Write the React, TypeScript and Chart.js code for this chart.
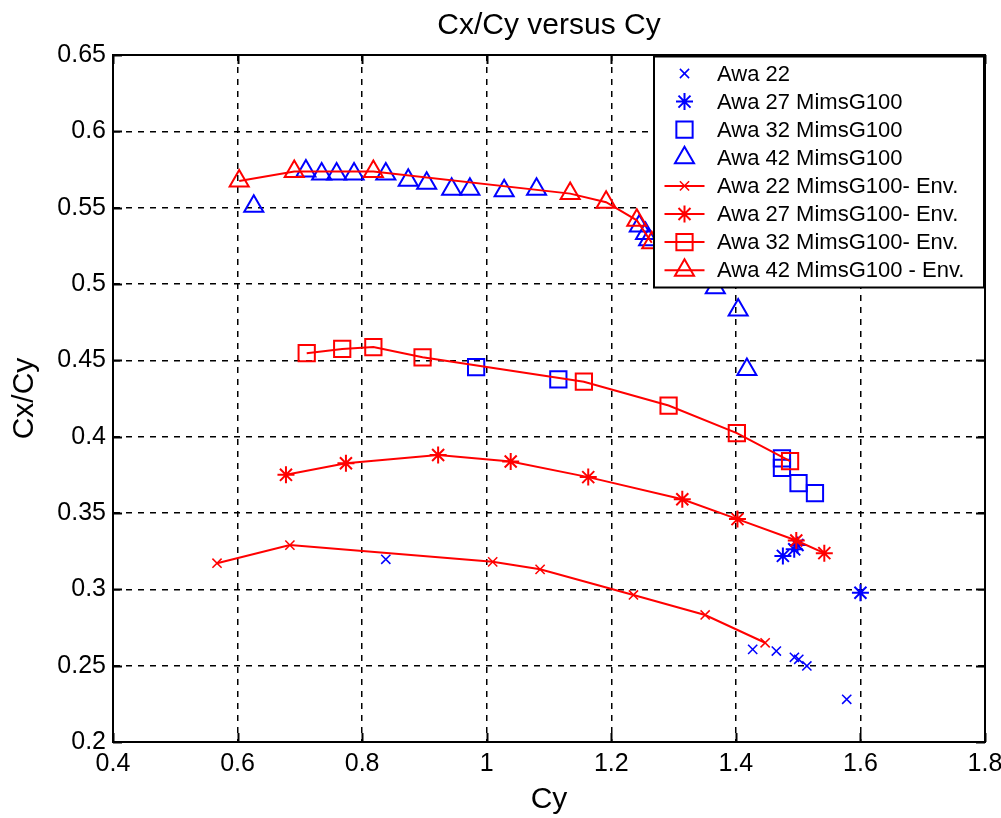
import React, { useEffect, useRef } from 'react';
import { Chart, registerables } from 'chart.js';

Chart.register(...registerables);

const FONT = '"Liberation Sans", Arial, Helvetica, sans-serif';
const BLUE = '#0000ff';
const RED = '#ff0000';

// Axis ticks
const xTicks = [0.4, 0.6, 0.8, 1.0, 1.2, 1.4, 1.6, 1.8];
const xTickLabels = ['0.4', '0.6', '0.8', '1', '1.2', '1.4', '1.6', '1.8'];
const yTicks = [0.2, 0.25, 0.3, 0.35, 0.4, 0.45, 0.5, 0.55, 0.6, 0.65];
const yTickLabels = ['0.2', '0.25', '0.3', '0.35', '0.4', '0.45', '0.5', '0.55', '0.6', '0.65'];

// Series labels
const seriesLabels = [
  'Awa 22',
  'Awa 27 MimsG100',
  'Awa 32 MimsG100',
  'Awa 42 MimsG100',
  'Awa 22 MimsG100- Env.',
  'Awa 27 MimsG100- Env.',
  'Awa 32 MimsG100- Env.',
  'Awa 42 MimsG100 - Env.',
];

// Measured points (Cy, Cx/Cy)
const awa22Cy = [0.838, 1.427, 1.465, 1.494, 1.501, 1.514, 1.578];
const awa22Ratio = [0.3197, 0.2607, 0.2596, 0.2555, 0.2542, 0.2498, 0.228];

const awa27Cy = [1.4755, 1.4937, 1.499, 1.6];
const awa27Ratio = [0.3219, 0.3262, 0.329, 0.2978];

const awa32Cy = [0.983, 1.115, 1.474, 1.474, 1.5006, 1.527];
const awa32Ratio = [0.4455, 0.4376, 0.3858, 0.3795, 0.3695, 0.363];

const awa42Cy = [0.626, 0.7097, 0.735, 0.759, 0.787, 0.838, 0.874, 0.9036, 0.9437, 0.973, 1.028, 1.08, 1.245, 1.255, 1.26, 1.367, 1.4037, 1.4177];
const awa42Ratio = [0.551, 0.574, 0.572, 0.572, 0.572, 0.572, 0.568, 0.566, 0.562, 0.562, 0.561, 0.562, 0.538, 0.533, 0.529, 0.4975, 0.483, 0.444];

// Envelopes
const env22Cy = [0.567, 0.684, 1.0096, 1.0857, 1.2356, 1.3507, 1.447];
const env22Ratio = [0.3171, 0.329, 0.318, 0.3131, 0.2963, 0.2832, 0.265];

const env27Cy = [0.6777, 0.774, 0.922, 1.0385, 1.163, 1.314, 1.4026, 1.497, 1.542];
const env27Ratio = [0.375, 0.3826, 0.388, 0.3837, 0.3735, 0.359, 0.346, 0.332, 0.3237];

const env32Cy = [0.711, 0.768, 0.818, 0.897, 1.156, 1.292, 1.4016, 1.487];
const env32Ratio = [0.4547, 0.4575, 0.4587, 0.452, 0.436, 0.4204, 0.4023, 0.384];

const env42Cy = [0.6026, 0.691, 0.818, 1.134, 1.1917, 1.241, 1.265];
const env42Ratio = [0.5675, 0.5737, 0.5737, 0.5592, 0.5536, 0.5417, 0.527];

const toPts = (xs: number[], ys: number[]) => xs.map((x, i) => ({ x, y: ys[i] }));

type MarkerStyle = 'crossRot' | 'star' | 'rect' | 'triangle';

const seriesStyle: { color: string; marker: MarkerStyle; radius: number; line: boolean }[] = [
  { color: BLUE, marker: 'crossRot', radius: 6.5, line: false },
  { color: BLUE, marker: 'star', radius: 8.5, line: false },
  { color: BLUE, marker: 'rect', radius: 11.5, line: false },
  { color: BLUE, marker: 'triangle', radius: 11, line: false },
  { color: RED, marker: 'crossRot', radius: 6.5, line: true },
  { color: RED, marker: 'star', radius: 8.5, line: true },
  { color: RED, marker: 'rect', radius: 11.5, line: true },
  { color: RED, marker: 'triangle', radius: 11, line: true },
];

function drawMarker(ctx: CanvasRenderingContext2D, style: MarkerStyle, x: number, y: number, r: number) {
  ctx.beginPath();
  if (style === 'crossRot' || style === 'star') {
    const o = r * Math.SQRT1_2;
    ctx.moveTo(x - o, y - o);
    ctx.lineTo(x + o, y + o);
    ctx.moveTo(x - o, y + o);
    ctx.lineTo(x + o, y - o);
    if (style === 'star') {
      ctx.moveTo(x - r, y);
      ctx.lineTo(x + r, y);
      ctx.moveTo(x, y - r);
      ctx.lineTo(x, y + r);
    }
    ctx.stroke();
  } else if (style === 'rect') {
    const s = r * Math.SQRT1_2;
    ctx.rect(x - s, y - s, 2 * s, 2 * s);
    ctx.stroke();
  } else {
    const a = Math.sin((2 * Math.PI) / 3) * r;
    ctx.moveTo(x, y - r);
    ctx.lineTo(x + a, y + r / 2);
    ctx.lineTo(x - a, y + r / 2);
    ctx.closePath();
    ctx.stroke();
  }
}

const frameAndTicksPlugin = {
  id: 'frameAndTicks',
  afterDraw(chart: any) {
    const { ctx, chartArea } = chart;
    const { left, right, top, bottom } = chartArea;
    const xs = chart.scales.x;
    const ys = chart.scales.y;
    const tl = 9;
    ctx.save();
    ctx.strokeStyle = '#000';
    ctx.lineWidth = 2;
    ctx.setLineDash([]);
    ctx.beginPath();
    xTicks.forEach((v) => {
      const px = Math.round(xs.getPixelForValue(v)) + 0.5;
      ctx.moveTo(px, bottom);
      ctx.lineTo(px, bottom - tl);
      ctx.moveTo(px, top);
      ctx.lineTo(px, top + tl);
    });
    yTicks.forEach((v) => {
      const py = Math.round(ys.getPixelForValue(v)) + 0.5;
      ctx.moveTo(left, py);
      ctx.lineTo(left + tl, py);
      ctx.moveTo(right, py);
      ctx.lineTo(right - tl, py);
    });
    ctx.stroke();
    ctx.strokeRect(left, top, right - left, bottom - top);
    ctx.restore();
  },
};

const legendBoxPlugin = {
  id: 'legendBox',
  afterDraw(chart: any) {
    const { ctx, chartArea } = chart;
    const boxRight = chartArea.right - 1;
    const boxTop = chartArea.top + 1.5;
    const boxW = 330;
    const rowH = 28.1;
    const boxH = 231;
    const boxLeft = boxRight - boxW;
    ctx.save();
    ctx.fillStyle = '#fff';
    ctx.fillRect(boxLeft, boxTop, boxW, boxH);
    ctx.strokeStyle = '#000';
    ctx.lineWidth = 2;
    ctx.setLineDash([]);
    ctx.strokeRect(boxLeft, boxTop, boxW, boxH);
    const mx = boxLeft + 30.5;
    ctx.font = `22px ${FONT}`;
    ctx.textBaseline = 'middle';
    ctx.textAlign = 'left';
    seriesLabels.forEach((label, i) => {
      const st = seriesStyle[i];
      const cy = boxTop + 17 + i * rowH;
      ctx.strokeStyle = st.color;
      ctx.lineWidth = 2;
      if (st.line) {
        ctx.beginPath();
        ctx.moveTo(mx - 20, cy);
        ctx.lineTo(mx + 20, cy);
        ctx.stroke();
      }
      ctx.lineWidth = st.marker === 'crossRot' ? 1.5 : 2;
      drawMarker(ctx, st.marker, mx, cy, st.radius);
      ctx.fillStyle = '#000';
      ctx.fillText(label, boxLeft + 63, cy + 1);
    });
    ctx.restore();
  },
};

export default function App() {
  const canvasRef = useRef<HTMLCanvasElement | null>(null);

  useEffect(() => {
    const canvas = canvasRef.current;
    if (!canvas) return;
    const seriesData = [
      toPts(awa22Cy, awa22Ratio),
      toPts(awa27Cy, awa27Ratio),
      toPts(awa32Cy, awa32Ratio),
      toPts(awa42Cy, awa42Ratio),
      toPts(env22Cy, env22Ratio),
      toPts(env27Cy, env27Ratio),
      toPts(env32Cy, env32Ratio),
      toPts(env42Cy, env42Ratio),
    ];
    const datasets = seriesData.map((data, i) => {
      const st = seriesStyle[i];
      return {
        label: seriesLabels[i],
        data,
        showLine: st.line,
        borderColor: st.color,
        borderWidth: 2,
        backgroundColor: 'rgba(0,0,0,0)',
        pointStyle: st.marker,
        pointRadius: st.radius,
        pointBorderColor: st.color,
        pointBackgroundColor: 'rgba(0,0,0,0)',
        pointBorderWidth: st.marker === 'crossRot' ? 1.5 : 2,
        tension: 0,
        order: st.line ? 0 : 1,
      };
    });
    const tickFont = { family: FONT, size: 25 };
    const chart = new Chart(canvas, {
      type: 'scatter',
      data: { datasets: datasets as any },
      options: {
        responsive: false,
        animation: false,
        devicePixelRatio: 1,
        layout: { padding: { left: 0, right: 16, top: 0, bottom: 0 } },
        plugins: {
          legend: { display: false },
          tooltip: { enabled: false },
          title: {
            display: true,
            text: 'Cx/Cy versus Cy',
            fullSize: false,
            color: '#000',
            font: { family: FONT, size: 30, weight: 'normal' as any },
            padding: { top: 8, bottom: 11 },
          },
        },
        scales: {
          x: {
            type: 'linear',
            min: 0.4,
            max: 1.8,
            afterBuildTicks: (s: any) => {
              s.ticks = xTicks.map((v) => ({ value: v }));
            },
            afterFit: (s: any) => {
              s.height = 76;
              s.paddingLeft = 0;
              s.paddingRight = 0;
            },
            ticks: {
              autoSkip: false,
              maxRotation: 0,
              color: '#000',
              font: tickFont,
              padding: 7,
              callback: (_v: any, i: number) => xTickLabels[i],
            },
            grid: { color: '#000', lineWidth: 1.5, drawTicks: false },
            border: { display: true, color: '#000', width: 2, dash: [6, 6] },
            title: {
              display: true,
              text: 'Cy',
              color: '#000',
              font: { family: FONT, size: 30 },
              padding: { top: 0, bottom: 0 },
            },
          },
          y: {
            type: 'linear',
            min: 0.2,
            max: 0.65,
            afterBuildTicks: (s: any) => {
              s.ticks = yTicks.map((v) => ({ value: v }));
            },
            afterFit: (s: any) => {
              s.width = 113;
              s.paddingTop = 0;
              s.paddingBottom = 0;
            },
            ticks: {
              autoSkip: false,
              color: '#000',
              font: tickFont,
              padding: 7,
              callback: (_v: any, i: number) => yTickLabels[i],
            },
            grid: { color: '#000', lineWidth: 1.5, drawTicks: false },
            border: { display: true, color: '#000', width: 2, dash: [6, 6] },
            title: {
              display: true,
              text: 'Cx/Cy',
              color: '#000',
              font: { family: FONT, size: 30 },
              padding: { top: 7, bottom: 0 },
            },
          },
        },
      },
      plugins: [frameAndTicksPlugin, legendBoxPlugin],
    });
    return () => chart.destroy();
  }, []);

  return (
    <div style={{ position: 'absolute', left: 0, top: 0, width: 1001, height: 818, background: '#fff' }}>
      <canvas ref={canvasRef} width={1001} height={818} style={{ display: 'block' }} />
    </div>
  );
}
